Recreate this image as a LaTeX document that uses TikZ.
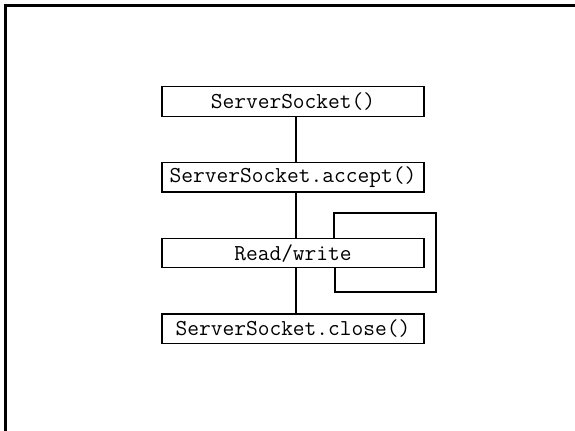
\documentclass[tikz,border=0pt]{standalone}
\usetikzlibrary{positioning}

\begin{document}
\begin{tikzpicture}[x=0.5pt,y=-0.5pt,node distance=22.5pt,
 box/.style={draw,line width=0.65pt,minimum width=131pt,minimum height=14.75pt,inner sep=0pt,font=\ttfamily\fontsize{11.4}{13}\selectfont},
 conn/.style={line width=0.65pt}]
\useasboundingbox (0,0) rectangle (575,431);
\draw[line width=1.5pt] (5.5,431) -- (5.5,5.5) -- (575,5.5);
\node[box] (sock) at (293,101.5) {ServerSocket()};
\node[box,below=of sock] (accept) {ServerSocket.accept()};
\node[box,below=of accept] (rw) {Read/write};
\node[box,below=of rw] (close) {ServerSocket.close()};
\draw[conn] ([xshift=1.5pt]sock.south) -- ([xshift=1.5pt]accept.north);
\draw[conn] ([xshift=1.5pt]accept.south) -- ([xshift=1.5pt]rw.north);
\draw[conn] ([xshift=1.5pt]rw.south) -- ([xshift=1.5pt]close.north);
% loop back onto read/write
\coordinate (looptop) at (436,213);
\coordinate (loopbot) at (436,292);
\draw[conn] ([xshift=20.5pt]rw.north) |- (looptop) -- (loopbot) -| ([xshift=21pt]rw.south);
\end{tikzpicture}
\end{document}
